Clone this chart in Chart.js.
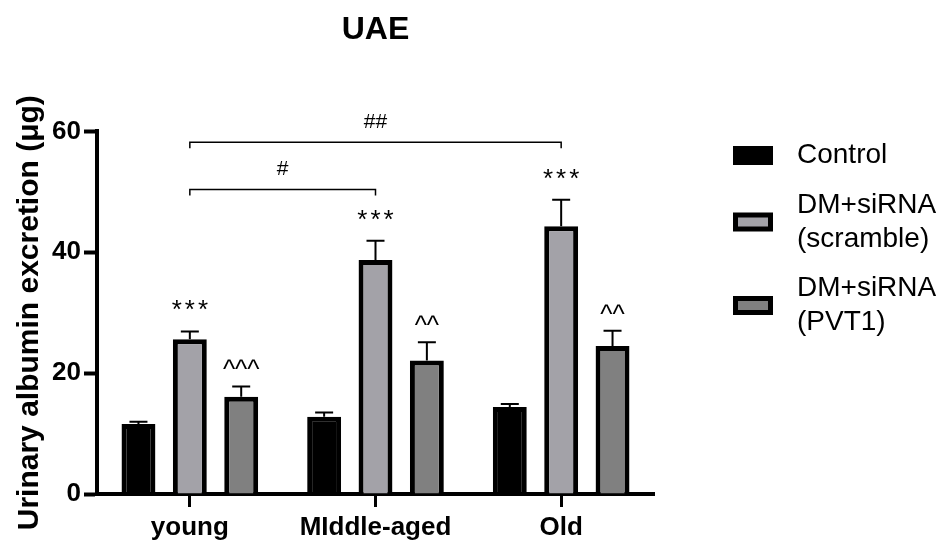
<!DOCTYPE html>
<html>
<head>
<meta charset="utf-8">
<title>UAE</title>
<script src="https://cdn.jsdelivr.net/npm/chart.js@4.4.1/dist/chart.umd.min.js"></script>
<style>
  html, body { margin: 0; padding: 0; background: #fff; }
  #wrap { width: 943px; height: 547px; }
</style>
</head>
<body>
<div id="wrap"><canvas id="uaeChart" width="943" height="547"></canvas></div>
<script>
const FONT = '"Liberation Sans", Arial, Helvetica, sans-serif';

// ---- data ----
const groups = ['young', 'MIddle-aged', 'Old'];
const seriesNames = [['Control'], ['DM+siRNA', '(scramble)'], ['DM+siRNA', '(PVT1)']];
const controlVals = [11.6, 12.8, 14.4];
const controlErr = [0.35, 0.7, 0.5];
const scrambleVals = [25.6, 38.7, 44.3];
const scrambleErr = [1.3, 3.2, 4.4];
const pvt1Vals = [16.1, 22.1, 24.5];
const pvt1Err = [1.7, 3.0, 2.5];
const controlMarks = ['', '', ''];
const scrambleMarks = ['***', '***', '***'];
const pvt1Marks = ['^^^', '^^', '^^'];
const yTicks = [0, 20, 40, 60];
// scramble-vs-scramble comparisons (level in axis units)
const brackets = [
    { from: 0, to: 1, level: 50.4, label: '#' },
    { from: 0, to: 2, level: 58.2, label: '##' }
];

const fills = ['#000000', '#a3a2a8', '#808080'];

// error bars + significance marks on top of every bar
const errorBarPlugin = {
    id: 'errorBars',
    afterDatasetsDraw(chart) {
        const ctx = chart.ctx;
        const y = chart.scales.y;
        ctx.save();
        ctx.strokeStyle = '#000';
        ctx.fillStyle = '#000';
        ctx.lineWidth = 2;
        chart.data.datasets.forEach((ds, i) => {
            const meta = chart.getDatasetMeta(i);
            meta.data.forEach((bar, j) => {
                const top = y.getPixelForValue(ds.data[j] + ds.errors[j]);
                ctx.beginPath();
                ctx.moveTo(bar.x, bar.y);
                ctx.lineTo(bar.x, top);
                ctx.moveTo(bar.x - 9, top);
                ctx.lineTo(bar.x + 9, top);
                ctx.stroke();

                const mark = ds.marks[j];
                if (!mark) return;
                const stars = mark.startsWith('*');
                ctx.font = '26px ' + FONT;
                ctx.letterSpacing = stars ? '3px' : '0px';
                ctx.textAlign = 'center';
                ctx.textBaseline = 'alphabetic';
                ctx.fillText(mark, bar.x + (stars ? 1.5 : 0), top - (stars ? 13 : 8));
            });
        });
        ctx.restore();
    }
};

// horizontal comparison brackets between scramble bars
const bracketPlugin = {
    id: 'brackets',
    afterDatasetsDraw(chart) {
        const ctx = chart.ctx;
        const bars = chart.getDatasetMeta(1).data;
        const y = chart.scales.y;
        ctx.save();
        ctx.strokeStyle = '#000';
        ctx.fillStyle = '#000';
        ctx.lineWidth = 1.5;
        ctx.font = '21px ' + FONT;
        ctx.textAlign = 'center';
        ctx.textBaseline = 'alphabetic';
        brackets.forEach(b => {
            const x1 = bars[b.from].x, x2 = bars[b.to].x;
            const py = y.getPixelForValue(b.level);
            ctx.beginPath();
            ctx.moveTo(x1, py + 6);
            ctx.lineTo(x1, py);
            ctx.lineTo(x2, py);
            ctx.lineTo(x2, py + 6);
            ctx.stroke();
            ctx.fillText(b.label, (x1 + x2) / 2, py - 14);
        });
        ctx.restore();
    }
};

// legend on the right, multi-line labels
const sideLegend = {
    id: 'sideLegend',
    afterDraw(chart) {
        const ctx = chart.ctx;
        const lineH = 34, gap = 15.5;
        let top = 138.5;
        ctx.save();
        ctx.font = '28px ' + FONT;
        ctx.textAlign = 'left';
        ctx.textBaseline = 'middle';
        chart.data.datasets.forEach(ds => {
            const lines = ds.legendLines;
            const h = lines.length * lineH;
            const cy = top + h / 2;
            ctx.fillStyle = '#000';
            ctx.fillRect(733, cy - 9.5, 40, 19);
            ctx.fillStyle = ds.backgroundColor;
            ctx.fillRect(738, cy - 4.5, 30, 9);
            ctx.fillStyle = '#000';
            lines.forEach((t, k) => ctx.fillText(t, 797, top + lineH * k + lineH / 2));
            top += h + gap;
        });
        ctx.restore();
    }
};

const mkSet = (i, vals, errs, marks) => ({
    label: seriesNames[i].join(' '),
    legendLines: seriesNames[i],
    data: vals,
    errors: errs,
    marks: marks,
    backgroundColor: fills[i],
    borderColor: '#000',
    borderWidth: 5,
    categoryPercentage: 0.83,
    barPercentage: 0.66
});

new Chart(document.getElementById('uaeChart'), {
    type: 'bar',
    data: {
        labels: groups,
        datasets: [
            mkSet(0, controlVals, controlErr, controlMarks),
            mkSet(1, scrambleVals, scrambleErr, scrambleMarks),
            mkSet(2, pvt1Vals, pvt1Err, pvt1Marks)
        ]
    },
    options: {
        responsive: false,
        animation: false,
        layout: { padding: { left: 0, right: 289, top: 0, bottom: 0 } },
        plugins: {
            legend: { display: false },
            tooltip: { enabled: false },
            title: {
                display: true,
                text: 'UAE',
                fullSize: false,
                color: '#000',
                font: { family: FONT, size: 32, weight: 'bold' },
                padding: { top: 11, bottom: 82 }
            }
        },
        scales: {
            x: {
                offset: true,
                afterFit: s => { s.height = 53; },
                border: { display: true, color: '#000', width: 4 },
                grid: { display: true, offset: false, drawOnChartArea: false, tickLength: 13, tickWidth: 3, tickColor: '#000' },
                ticks: { color: '#000', padding: 5, maxRotation: 0, font: { family: FONT, size: 26, weight: 'bold' } }
            },
            y: {
                min: 0,
                max: 60,
                afterBuildTicks: s => { s.ticks = yTicks.map(v => ({ value: v })); },
                afterFit: s => { s.width = 97; },
                border: { display: true, color: '#000', width: 4 },
                grid: { display: true, drawOnChartArea: false, tickLength: 13, tickWidth: 4, tickColor: '#000' },
                ticks: { color: '#000', padding: 3, font: { family: FONT, size: 26, weight: 'bold' } },
                title: {
                    display: true,
                    text: 'Urinary albumin excretion (μg)',
                    color: '#000',
                    font: { family: FONT, size: 30, weight: 'bold' },
                    padding: { top: 12, bottom: 0 }
                }
            }
        }
    },
    plugins: [errorBarPlugin, bracketPlugin, sideLegend]
});
</script>
</body>
</html>
